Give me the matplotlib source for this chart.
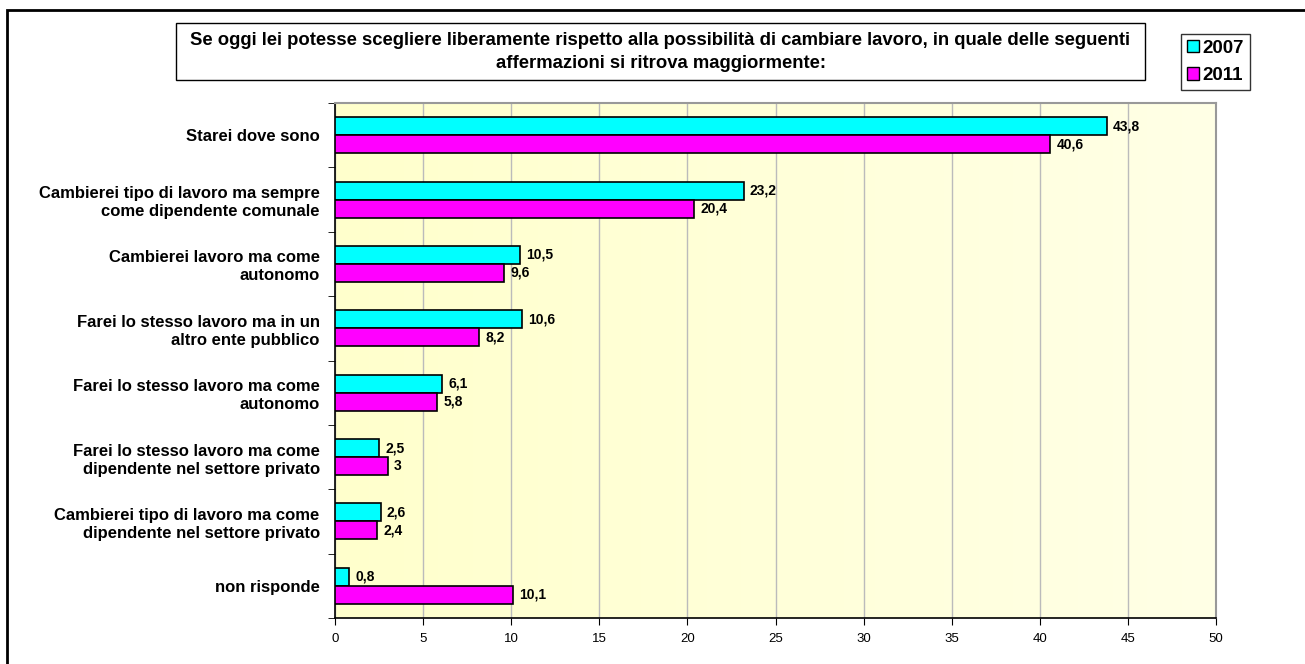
import matplotlib
matplotlib.use("Agg")
import matplotlib.pyplot as plt
import numpy as np
from matplotlib.patches import Rectangle
from matplotlib.colors import LinearSegmentedColormap

plt.rcParams['font.family'] = ['Liberation Sans', 'DejaVu Sans']

categories = [
    "Starei dove sono",
    "Cambierei tipo di lavoro ma sempre\ncome dipendente comunale",
    "Cambierei lavoro ma come\nautonomo",
    "Farei lo stesso lavoro ma in un\naltro ente pubblico",
    "Farei lo stesso lavoro ma come\nautonomo",
    "Farei lo stesso lavoro ma come\ndipendente nel settore privato",
    "Cambierei tipo di lavoro ma come\ndipendente nel settore privato",
    "non risponde",
]
values_2007 = [43.8, 23.2, 10.5, 10.6, 6.1, 2.5, 2.6, 0.8]
values_2011 = [40.6, 20.4, 9.6, 8.2, 5.8, 3.0, 2.4, 10.1]
series_names = ["2007", "2011"]
colors = ["#00FFFF", "#FF00FF"]
title = ("Se oggi lei potesse scegliere liberamente rispetto alla possibilità di cambiare lavoro, "
         "in quale delle seguenti\naffermazioni si ritrova maggiormente:")

W, H = 1305, 664


def fmt(v):
    s = f"{v:.1f}".replace(".", ",")
    if s.endswith(",0"):
        s = s[:-2]
    return s


def px(x, y):
    # pixel coords (from top left) -> figure fraction
    return x / W, 1 - y / H


fig = plt.figure(figsize=(W / 100, H / 100), dpi=100)

# outer frame (runs off the right and bottom edges)
fx, fy = px(7, 10)
fig.patches.append(Rectangle((fx, -0.05), 1.1, fy + 0.05, transform=fig.transFigure,
                             fill=False, edgecolor="black", linewidth=2))

x0, y0 = px(335, 618)
x1, y1 = px(1216, 103)
ax = fig.add_axes([x0, y0, x1 - x0, y1 - y0])

# light yellow gradient background
grad = np.linspace(0, 1, 256).reshape(1, -1)
cmap = LinearSegmentedColormap.from_list("bg", ["#FFFFCC", "#FFFFE6"])
ax.imshow(grad, extent=[0, 50, -0.5, len(categories) - 0.5], aspect="auto", cmap=cmap, zorder=0)

y = np.arange(len(categories))
h = 0.28
ax.barh(y - h / 2, values_2007, height=h, color=colors[0], edgecolor="black", linewidth=1.2,
        label=series_names[0], zorder=3)
ax.barh(y + h / 2, values_2011, height=h, color=colors[1], edgecolor="black", linewidth=1.2,
        label=series_names[1], zorder=3)

for yi, v in zip(y, values_2007):
    ax.text(v + 0.35, yi - h / 2, fmt(v), va="center", ha="left", fontsize=10, fontweight="bold", zorder=4)
for yi, v in zip(y, values_2011):
    ax.text(v + 0.35, yi + h / 2, fmt(v), va="center", ha="left", fontsize=10, fontweight="bold", zorder=4)

ax.set_xlim(0, 50)
ax.set_ylim(len(categories) - 0.5, -0.5)
ax.set_xticks(np.arange(0, 51, 5))
ax.set_yticks(y)
ax.set_yticklabels(categories, fontsize=12, fontweight="bold", ha="right", linespacing=1.25)
ax.set_yticks(np.arange(-0.5, len(categories), 1), minor=True)
ax.tick_params(axis="y", which="major", length=0, pad=11)
ax.tick_params(axis="y", which="minor", length=5, direction="out", color="black")
ax.tick_params(axis="x", length=5, labelsize=9.5, pad=6)
ax.grid(axis="x", color="#BBBBBB", linewidth=1, zorder=1)
ax.set_axisbelow(True)
for side in ["top", "right"]:
    ax.spines[side].set_color("#999999")
    ax.spines[side].set_linewidth(1.5)
for side in ["left", "bottom"]:
    ax.spines[side].set_color("black")
    ax.spines[side].set_linewidth(1.2)

# title box
bx0, by0 = px(176, 80)
bx1, by1 = px(1145, 23)
fig.patches.append(Rectangle((bx0, by0), bx1 - bx0, by1 - by0, transform=fig.transFigure,
                             facecolor="white", edgecolor="black", linewidth=1))
tx, ty = px(660.5, 52)
fig.text(tx, ty, title, ha="center", va="center", fontsize=13.3, fontweight="bold", linespacing=1.45)

# legend
lx, ly = px(1181, 34)
leg = fig.legend(loc="upper left", bbox_to_anchor=(lx, ly), frameon=True,
                 fancybox=False, edgecolor="black", prop={"weight": "bold", "size": 13.5},
                 handlelength=0.65, handleheight=0.65, handletextpad=0.2, borderpad=0.3,
                 labelspacing=0.55, borderaxespad=0)
leg.get_frame().set_linewidth(1)
for p in leg.get_patches():
    p.set_edgecolor("black")
    p.set_linewidth(1)

fig.savefig("out.png", dpi=100)
